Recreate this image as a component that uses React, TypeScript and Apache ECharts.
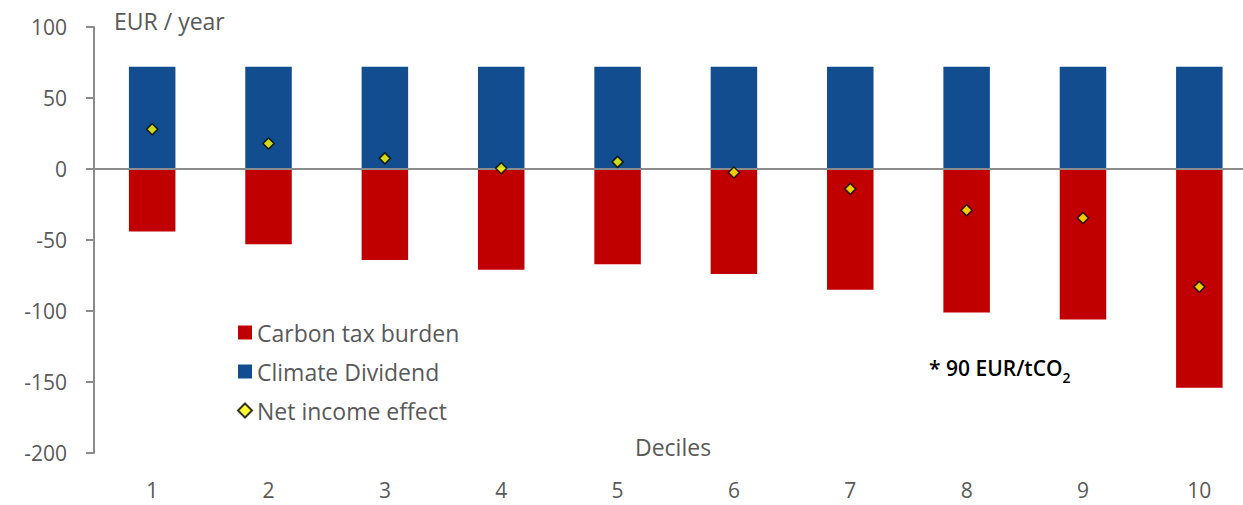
import React, { useEffect, useRef } from "react";
import * as echarts from "echarts";

const deciles = ["1", "2", "3", "4", "5", "6", "7", "8", "9", "10"];
const carbonTaxBurden = [-44, -53, -64, -71, -67, -74, -85, -101, -106, -154];
const climateDividend = [72, 72, 72, 72, 72, 72, 72, 72, 72, 72];
const netIncomeEffect = [28, 18, 7.5, 0.5, 5, -2.5, -14, -29, -34.5, -83];
const yTicks = { min: -200, max: 100, interval: 50 };

const FONT = "'Open Sans', 'Noto Sans', sans-serif";
const GRAY = "#595959";
const AXIS = "#8c8c8c";

export default function App() {
  const ref = useRef<HTMLDivElement>(null);
  useEffect(() => {
    if (!ref.current) return;
    const chart = echarts.init(ref.current, null, { renderer: "svg" });
    chart.setOption({
      animation: false,
      backgroundColor: "#ffffff",
      textStyle: { fontFamily: FONT },
      grid: { left: 94, top: 27, width: 1163.5, height: 426 },
      legend: {
        orient: "vertical",
        left: 232,
        top: 316,
        itemWidth: 14,
        itemHeight: 14,
        itemGap: 16,
        textStyle: { color: GRAY, fontSize: 23, fontFamily: FONT },
        data: [
          { name: "Carbon tax burden", icon: "rect" },
          { name: "Climate Dividend", icon: "rect" },
          { name: "Net income effect", icon: "diamond" },
        ],
      },
      xAxis: {
        type: "category",
        data: deciles,
        position: "bottom",
        axisLine: { show: false, onZero: false },
        axisTick: { show: false },
        axisLabel: { color: GRAY, fontSize: 21, margin: 26, fontFamily: FONT },
      },
      yAxis: {
        type: "value",
        min: yTicks.min,
        max: yTicks.max,
        interval: yTicks.interval,
        axisLine: { show: true, lineStyle: { color: AXIS, width: 2 } },
        axisTick: { show: true, length: 8, lineStyle: { color: AXIS, width: 2 } },
        splitLine: { show: false },
        axisLabel: { color: GRAY, fontSize: 21, margin: 27, fontFamily: FONT },
      },
      series: [
        {
          name: "Climate Dividend",
          type: "bar",
          data: climateDividend,
          barWidth: 46.5,
          barGap: "-100%",
          itemStyle: { color: "#114d8f" },
          markLine: {
            silent: true,
            symbol: "none",
            label: { show: false },
            lineStyle: { color: AXIS, width: 2, type: "solid" },
            data: [{ yAxis: 0 }],
          },
        },
        {
          name: "Carbon tax burden",
          type: "bar",
          data: carbonTaxBurden,
          barWidth: 46.5,
          itemStyle: { color: "#c00000" },
        },
        {
          name: "Net income effect",
          type: "scatter",
          data: netIncomeEffect,
          symbol: "diamond",
          symbolSize: 11,
          z: 5,
          itemStyle: { color: "#ffff00", borderColor: "#000000", borderWidth: 1.5 },
        },
      ],
      graphic: [
        {
          type: "text",
          left: 114,
          top: 9,
          style: { text: "EUR / year", fill: GRAY, fontSize: 23, fontFamily: FONT },
        },
        {
          type: "text",
          left: 635,
          top: 435,
          style: { text: "Deciles", fill: GRAY, fontSize: 23, fontFamily: FONT },
        },
        {
          type: "text",
          left: 929,
          top: 357,
          style: {
            text: "{a|* 90 EUR/tCO}{b|2}",
            fontFamily: FONT,
            rich: {
              a: { fontSize: 21, fontWeight: 600, fill: "#000000", fontFamily: FONT, lineHeight: 28, verticalAlign: "bottom" },
              b: { fontSize: 14, fontWeight: 600, fill: "#000000", fontFamily: FONT, lineHeight: 28, verticalAlign: "bottom", padding: [0, 0, -6, 0] },
            },
          },
        },
      ],
    });
    return () => chart.dispose();
  }, []);
  return (
    <div
      ref={ref}
      style={{ position: "fixed", left: 0, top: 0, width: 1260, height: 505 }}
    />
  );
}
